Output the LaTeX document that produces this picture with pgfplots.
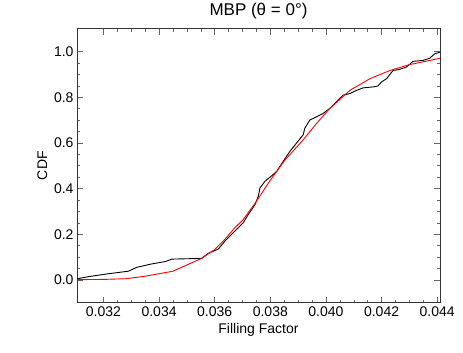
\documentclass[border=0pt]{standalone}
\usepackage{fontspec}
\setmainfont{Liberation Sans}
\usepackage{pgfplots}
\pgfplotsset{compat=1.18}
\begin{document}
\begin{tikzpicture}
\begin{axis}[
  scale only axis, width=363pt, height=274pt,
  xmin=0.03105, xmax=0.0441, ymin=-0.1, ymax=1.1,
  scaled x ticks=false, scaled y ticks=false,
  xtick={0.032,0.034,0.036,0.038,0.040,0.042,0.044},
  xticklabels={0.032,0.034,0.036,0.038,0.040,0.042,0.044},
  ytick={0,0.2,0.4,0.6,0.8,1.0},
  yticklabels={0.0,0.2,0.4,0.6,0.8,1.0},
  minor x tick num=3, minor y tick num=3,
  tick align=inside, major tick length=6pt, minor tick length=3pt,
  tick style={black!60, line width=0.5pt},
  axis line style={line width=0.6pt, black!80},
  tick label style={font=\fontsize{14}{16}\selectfont},
  label style={font=\fontsize{14}{16}\selectfont},
  title style={font=\fontsize{17}{19}\selectfont},
  title={MBP (θ = 0°)},
  xlabel={Filling Factor}, ylabel={CDF},
]
\addplot[black, line width=0.9pt] coordinates {
(0.03106,0.005) (0.03146,0.014) (0.03212,0.026) (0.03290,0.038) (0.03320,0.055)
(0.03374,0.070) (0.03422,0.080) (0.03446,0.091) (0.03553,0.094) (0.03577,0.116)
(0.03613,0.135) (0.03637,0.170) (0.03673,0.214) (0.03703,0.251) (0.03721,0.287)
(0.03745,0.330) (0.03757,0.367) (0.03763,0.403) (0.03781,0.432) (0.03799,0.450)
(0.03823,0.475) (0.03846,0.519) (0.03870,0.562) (0.03894,0.599) (0.03918,0.635)
(0.03924,0.664) (0.03942,0.700) (0.03966,0.714) (0.03990,0.729) (0.04014,0.751)
(0.04038,0.780) (0.04062,0.809) (0.04086,0.816) (0.04110,0.830) (0.04134,0.841)
(0.04169,0.845) (0.04187,0.849) (0.04200,0.867) (0.04218,0.881) (0.04241,0.917)
(0.04265,0.922) (0.04289,0.932) (0.04313,0.957) (0.04349,0.961) (0.04373,0.971)
(0.04391,0.990) (0.04409,0.997)
};
\addplot[red, line width=0.9pt] coordinates {
(0.03106,0.001) (0.0320,0.002) (0.0328,0.005) (0.0335,0.016) (0.0345,0.038)
(0.03553,0.094) (0.0360,0.133) (0.03637,0.178) (0.03673,0.229) (0.03703,0.265)
(0.03745,0.335) (0.03799,0.435) (0.03852,0.524) (0.03918,0.613) (0.03966,0.685)
(0.04014,0.751) (0.04086,0.830) (0.04158,0.881) (0.04230,0.917) (0.04301,0.943)
(0.04373,0.961) (0.04410,0.971)
};
\end{axis}
\path (current axis.south west) ++(-77pt,-50pt) coordinate (bl);
\path (current axis.north east) ++(23pt,24pt) coordinate (tr);
\path (bl) rectangle (tr);
\end{tikzpicture}
\end{document}
